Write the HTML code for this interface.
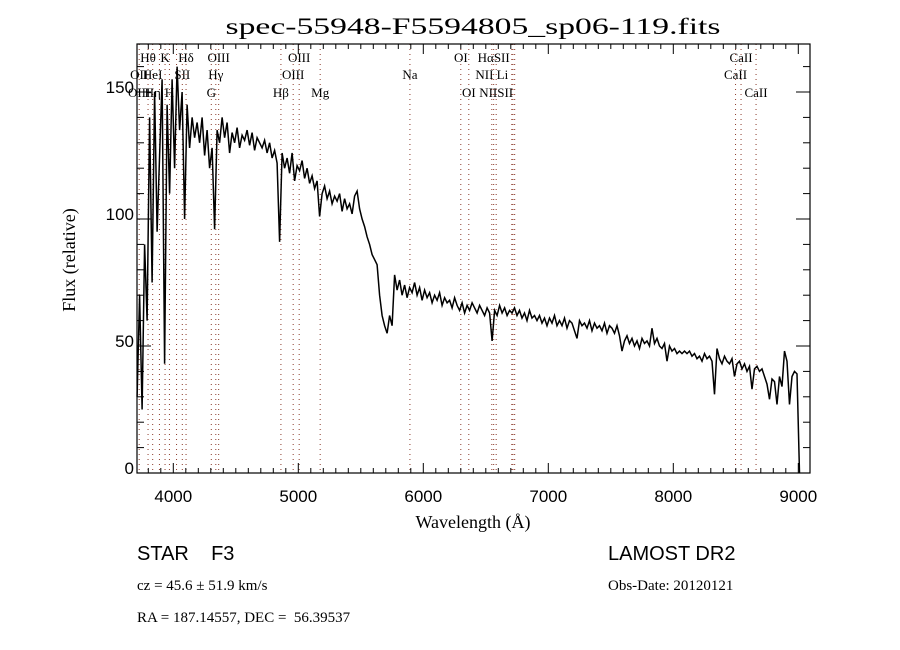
<!DOCTYPE html>
<html><head><meta charset="utf-8"><style>
body{margin:0;background:#fff;}
svg{display:block;}
text{font-family:"Liberation Serif",serif;fill:#000;}
</style></head><body>
<svg id="chart" width="900" height="650" xmlns="http://www.w3.org/2000/svg">
<rect width="900" height="650" fill="#fff"/>
<text x="473" y="34" font-size="23" text-anchor="middle" textLength="495" lengthAdjust="spacingAndGlyphs">spec-55948-F5594805_sp06-119.fits</text>
<g id="lines"></g>
<g id="labels"></g>
<g id="axes"></g>
<path id="spec" fill="none" stroke="#000" stroke-width="1.5"/>
<text x="473" y="528" font-size="18" text-anchor="middle">Wavelength (Å)</text>
<text transform="translate(75,260) rotate(-90)" font-size="18" text-anchor="middle">Flux (relative)</text>
<text x="137" y="560" font-size="20" style="font-family:'Liberation Sans',sans-serif" xml:space="preserve">STAR    F3</text>
<text x="608" y="560" font-size="20" style="font-family:'Liberation Sans',sans-serif">LAMOST DR2</text>
<text x="137" y="590" font-size="15">cz = 45.6 ± 51.9 km/s</text>
<text x="608" y="590" font-size="15">Obs-Date: 20120121</text>
<text x="137" y="622" font-size="15" xml:space="preserve">RA = 187.14557, DEC =  56.39537</text>
</svg>
<script>
const wlStart = 3710;
const wlStep = 20;
const flux = [
30,70,25,90,60, 140,75,150,95,125, 155,43,145,110,155, 120,160,135,150,100,
145,128,140,132,138, 130,140,125,135,120, 128,96,135,130,140, 132,138,126,134,130,
136,128,133,131,135, 129,134,127,132,130, 128,131,126,130,124, 127,122,91,126,120,
124,118,126,115,121, 119,123,116,120,114, 117,112,115,101,110, 113,108,111,106,109,
107,110,103,108,104, 106,102,109,111,104, 100,97,93,90,86, 84,82,70,62,58,
55,62,58,78,72, 76,70,74,69,73, 71,75,70,73,68, 72,69,71,67,70,
68,71,66,69,67, 68,65,69,66,64, 67,63,66,64,67, 65,63,66,64,62,
65,63,52,64,62, 66,63,65,62,64, 63,65,62,64,61, 63,60,64,61,62,
60,62,59,61,58, 61,59,62,58,60, 58,61,57,60,59, 56,53,60,58,59,
57,60,56,59,57, 58,56,59,55,58, 57,55,58,54,48, 52,54,51,53,50,
52,49,53,51,52, 50,57,51,53,50, 49,51,44,50,48, 49,47,48,47,48,
47,48,46,47,45, 46,44,47,45,46, 44,31,49,45,43, 46,44,43,45,38,
43,44,41,43,40, 42,33,41,42,40, 41,38,35,29,37, 36,27,38,34,48,
44,27,38,40,39, 0];
const xTicks = [4000,5000,6000,7000,8000,9000];
const yTicks = [0,50,100,150];
const lineWl = [3727,3798,3835,3889,3934,3969,4026,4072,4102,4304,4340,4363,4861,4959,5007,5175,5893,6300,6364,6548,6563,6583,6708,6717,6731,8498,8542,8662];
const labelText = ["Hθ","K","Hδ","OIII","OIII","OII","HeI","SII","Hγ","OIII","OIII","Hη","H","G","Hβ","Mg","OI","HαSII","CaII","Na","NII Li","CaII","OI","NIISII","CaII"];
const labelWl = [3798,3934,4102,4363,5007,3727,3835,4072,4340,4959,3727,3835,3969,4304,4861,5175,6300,6563,8542,5893,6548,8498,6364,6583,8662];
const labelRow = [0,0,0,0,0,1,1,1,1,1,2,2,2,2,2,2,0,0,0,1,1,1,2,2,2];

const X0=137,X1=810,Y0=44,Y1=473;
const xs = w => 173.3 + (w-4000)*0.125;
const ys = f => 473 - f*2.54;
const NS="http://www.w3.org/2000/svg";
function mk(tag, attrs, parent){const e=document.createElementNS(NS,tag);for(const k in attrs)e.setAttribute(k,attrs[k]);parent.appendChild(e);return e;}

const gl=document.getElementById('lines');
lineWl.forEach(w=>{
  const l=mk('line',{x1:xs(w),x2:xs(w),y1:Y0,y2:Y1,stroke:'#8b3a2a','stroke-width':1,'stroke-dasharray':'1 4'},gl);
  
  
});
const glab=document.getElementById('labels');
const rowY=[62,79,97];
labelText.forEach((t,i)=>{
  const e=mk('text',{x:xs(labelWl[i]),y:rowY[labelRow[i]],'font-size':13,'text-anchor':'middle'},glab);
  e.textContent=t;
  
  
});

const ga=document.getElementById('axes');
mk('rect',{x:X0,y:Y0,width:X1-X0,height:Y1-Y0,fill:'none',stroke:'#000','stroke-width':1.2},ga);
for(let w=3800;w<=9000;w+=100){
  const maj=w%1000===0, L=maj?10:5, x=xs(w);
  mk('line',{x1:x,x2:x,y1:Y1,y2:Y1-L,stroke:'#000'},ga);
  mk('line',{x1:x,x2:x,y1:Y0,y2:Y0+L,stroke:'#000'},ga);
}
xTicks.forEach(w=>{
  const t=mk('text',{x:xs(w),y:502,'font-size':17,'text-anchor':'middle',style:"font-family:'Liberation Sans',sans-serif"},ga);
  t.textContent=w;
  
  
});
for(let f=0;f<=160;f+=10){
  const maj=f%50===0, L=maj?14:7, y=ys(f);
  mk('line',{x1:X0,x2:X0+L,y1:y,y2:y,stroke:'#000'},ga);
  mk('line',{x1:X1,x2:X1-L,y1:y,y2:y,stroke:'#000'},ga);
}
yTicks.forEach(f=>{
  const t=mk('text',{x:134,y:ys(f)+1,'font-size':17,'text-anchor':'end',style:"font-family:'Liberation Sans',sans-serif"},ga);
  t.textContent=f;
  
  
});

let d='';
flux.forEach((f,i)=>{
  const w=wlStart+i*wlStep;
  d+=(i?'L':'M')+xs(w).toFixed(1)+','+ys(f).toFixed(1);
});
document.getElementById('spec').setAttribute('d',d);
</script>
</body></html>
